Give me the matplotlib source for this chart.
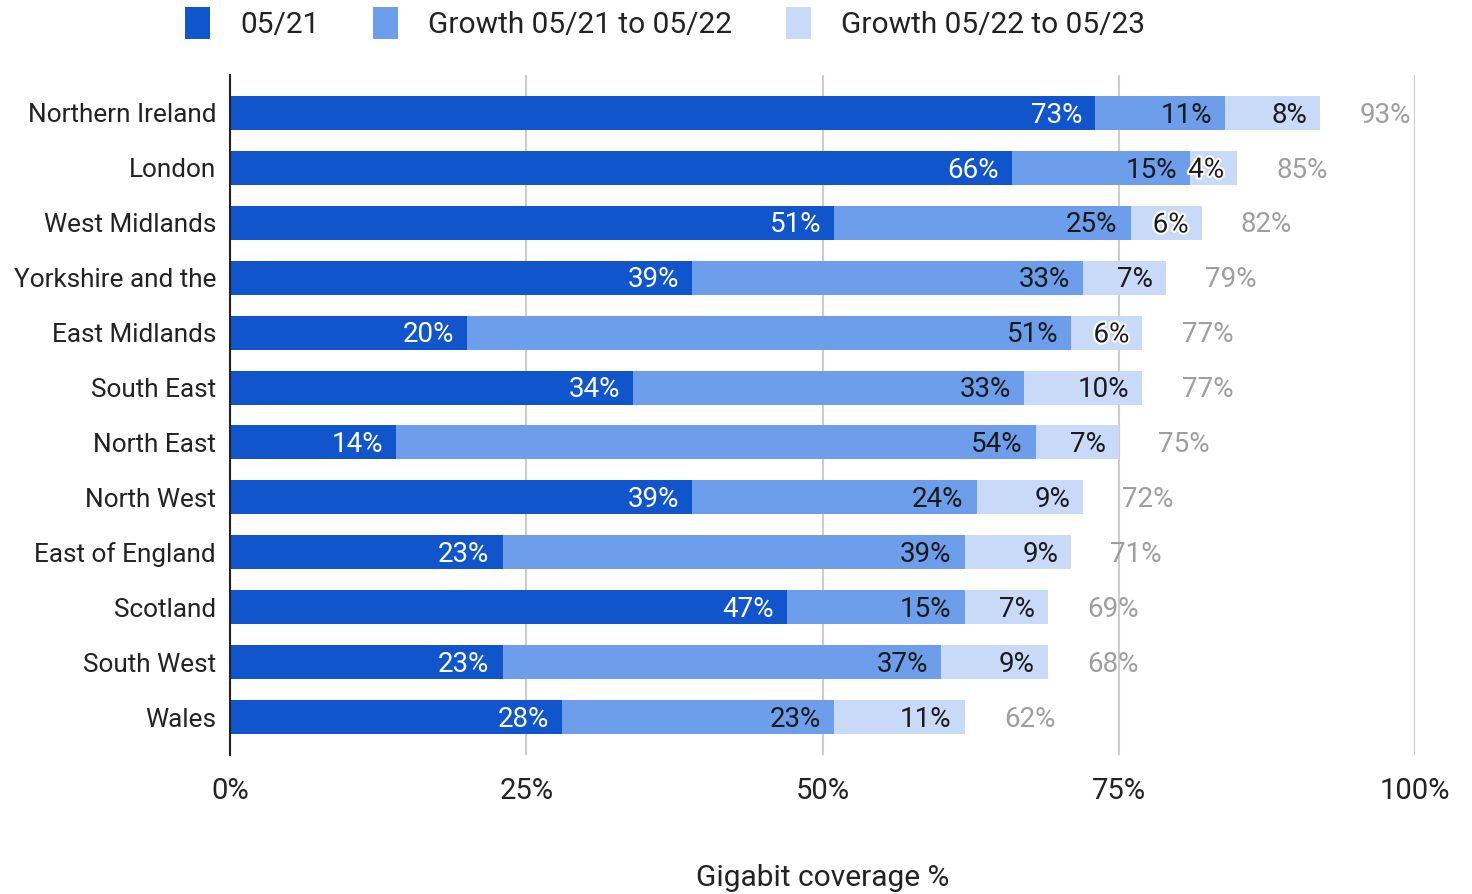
import matplotlib.pyplot as plt
import matplotlib.patheffects as pe
from matplotlib.patches import Patch
import numpy as np

plt.rcParams['font.family'] = ['Roboto', 'DejaVu Sans']

regions = ["Northern Ireland", "London", "West Midlands", "Yorkshire and the",
           "East Midlands", "South East", "North East", "North West",
           "East of England", "Scotland", "South West", "Wales"]
base_2021 = [73, 66, 51, 39, 20, 34, 14, 39, 23, 47, 23, 28]
growth_2122 = [11, 15, 25, 33, 51, 33, 54, 24, 39, 15, 37, 23]
growth_2223 = [8, 4, 6, 7, 6, 10, 7, 9, 9, 7, 9, 11]
totals = [93, 85, 82, 79, 77, 77, 75, 72, 71, 69, 68, 62]

series_names = ["05/21", "Growth 05/21 to 05/22", "Growth 05/22 to 05/23"]
colors = ["#1155cc", "#6d9eeb", "#c9daf8"]
text_colors = ["white", "#1a1a1a", "#1a1a1a"]

fig = plt.figure(figsize=(14.72, 8.94), dpi=100)
ax = fig.add_axes([230 / 1472, 1 - 755 / 894, 1185 / 1472, 680 / 894])

y = np.arange(len(regions))
left = np.zeros(len(regions))
for vals, col, tcol in zip([base_2021, growth_2122, growth_2223], colors, text_colors):
    vals = np.array(vals, dtype=float)
    ax.barh(y, vals, left=left, height=0.62, color=col, zorder=3)
    for yi, l, v in zip(y, left, vals):
        t = ax.text(l + v - 1.1, yi + 0.04, f"{int(v)}%", ha='right', va='center',
                    color=tcol, fontsize=20, zorder=4)
        if v < 6.5:
            t.set_path_effects([pe.withStroke(linewidth=3, foreground='white')])
    left += vals

for yi, end, tot in zip(y, left, totals):
    ax.text(end + 3.3, yi + 0.04, f"{tot}%", ha='left', va='center', color='#9e9e9e',
            fontsize=20, zorder=4)

ax.set_xlim(0, 100)
ax.set_ylim(11.69, -0.69)
ax.set_yticks(y)
ax.set_yticklabels(regions, fontsize=18.8, color='#222222')
ax.set_xticks([0, 25, 50, 75, 100])
ax.set_xticklabels(["0%", "25%", "50%", "75%", "100%"], fontsize=21, color='#222222')
ax.tick_params(axis='y', length=0, pad=10)
ax.tick_params(axis='x', length=0, pad=16)
ax.grid(axis='x', color='#cccccc', linewidth=1.5, zorder=0)
for s in ['top', 'right', 'bottom']:
    ax.spines[s].set_visible(False)
ax.spines['left'].set_linewidth(1.5)
ax.spines['left'].set_color('#222222')
ax.spines['left'].set_zorder(5)
ax.set_xlabel("Gigabit coverage %", fontsize=21.5, color='#222222', labelpad=42)

handles = [Patch(facecolor=c, edgecolor='none') for c in colors]
fig.legend(handles, series_names, loc='center', bbox_to_anchor=(665 / 1472, 1 - 23 / 894),
           ncol=3, frameon=False, fontsize=21.5, handlelength=0.85, handleheight=1.25,
           columnspacing=1.8, handletextpad=1.0, labelcolor='#222222')

fig.savefig("out.png", dpi=100)
